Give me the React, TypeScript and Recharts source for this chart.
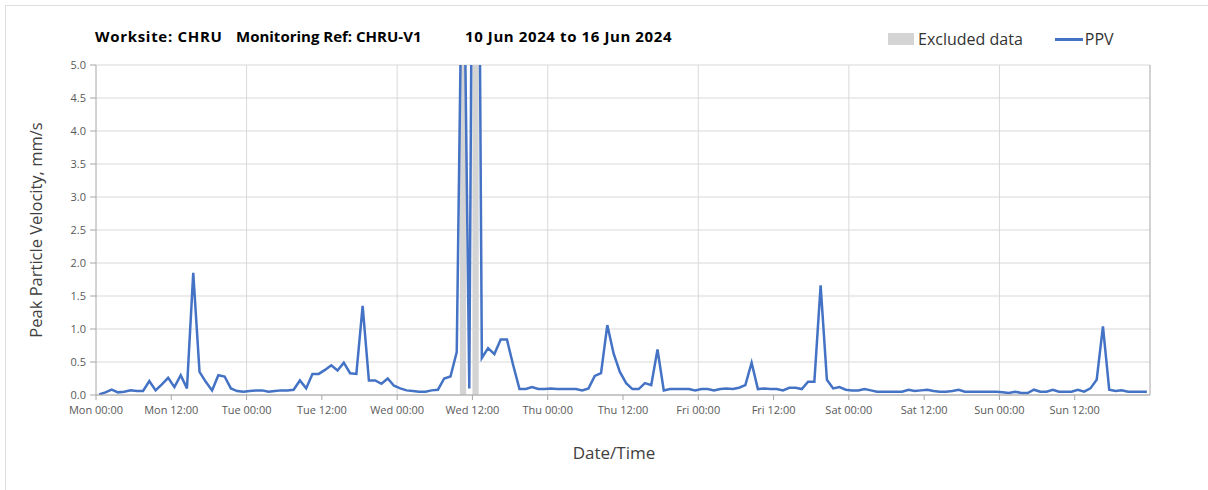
import {
  CartesianGrid,
  Line,
  LineChart,
  ReferenceArea,
  ReferenceLine,
  XAxis,
  YAxis,
} from 'recharts';

const LINE = '#4472C4';
const GRID = '#d9d9d9';
const AXIS = '#a6a6a6';
const EXCLUDED = '#d4d4d4';
const FONT = '"Open Sans", "Noto Sans", sans-serif';

// hourly PPV readings (mm/s), one array per day, Mon 10 Jun to Sun 16 Jun 2024
const monPPV = [0.01, 0.04, 0.08, 0.04, 0.05, 0.07, 0.06, 0.06, 0.21, 0.07, 0.16, 0.26, 0.12, 0.3, 0.1, 1.85, 0.35, 0.2, 0.07, 0.3, 0.28, 0.1, 0.06, 0.05];
const tuePPV = [0.06, 0.07, 0.07, 0.05, 0.06, 0.07, 0.07, 0.08, 0.22, 0.1, 0.32, 0.32, 0.38, 0.45, 0.37, 0.49, 0.33, 0.32, 1.35, 0.22, 0.22, 0.17, 0.25, 0.14];
const wedPPV = [0.1, 0.07, 0.06, 0.05, 0.05, 0.07, 0.08, 0.25, 0.28, 0.65, 8.0, 0.1, 16.0, 0.56, 0.71, 0.62, 0.84, 0.84, 0.45, 0.09, 0.09, 0.12, 0.09, 0.09];
const thuPPV = [0.1, 0.09, 0.09, 0.09, 0.09, 0.07, 0.1, 0.29, 0.33, 1.06, 0.63, 0.35, 0.18, 0.09, 0.09, 0.18, 0.15, 0.69, 0.07, 0.09, 0.09, 0.09, 0.09, 0.07];
const friPPV = [0.09, 0.09, 0.07, 0.09, 0.1, 0.09, 0.11, 0.15, 0.49, 0.09, 0.1, 0.09, 0.09, 0.07, 0.11, 0.11, 0.09, 0.2, 0.2, 1.66, 0.23, 0.1, 0.12, 0.08];
const satPPV = [0.07, 0.07, 0.09, 0.07, 0.05, 0.05, 0.05, 0.05, 0.05, 0.08, 0.06, 0.07, 0.08, 0.06, 0.05, 0.05, 0.06, 0.08, 0.05, 0.05, 0.05, 0.05, 0.05, 0.05];
const sunPPV = [0.04, 0.03, 0.05, 0.03, 0.03, 0.08, 0.05, 0.05, 0.08, 0.05, 0.05, 0.05, 0.08, 0.05, 0.1, 0.23, 1.04, 0.08, 0.06, 0.07, 0.05, 0.05, 0.05, 0.05];

// excluded data windows, hours from Mon 00:00
const excludedFrom = [58, 60];
const excludedTo = [59, 61];

const xTicks = [0, 12, 24, 36, 48, 60, 72, 84, 96, 108, 120, 132, 144, 156];
const xTickLabels = [
  'Mon 00:00', 'Mon 12:00', 'Tue 00:00', 'Tue 12:00', 'Wed 00:00', 'Wed 12:00', 'Thu 00:00',
  'Thu 12:00', 'Fri 00:00', 'Fri 12:00', 'Sat 00:00', 'Sat 12:00', 'Sun 00:00', 'Sun 12:00',
];
const dayLines = [24, 48, 72, 96, 120, 144];
const yTicks = [0, 0.5, 1, 1.5, 2, 2.5, 3, 3.5, 4, 4.5, 5];

const W = 1208;
const H = 490;

export default function App() {
  const readings = [...monPPV, ...tuePPV, ...wedPPV, ...thuPPV, ...friPPV, ...satPPV, ...sunPPV];
  // each reading sits at the middle of its hour
  const data = readings.map((ppv, i) => ({ t: i + 0.5, ppv }));

  return (
    <div
      style={{
        position: 'absolute',
        left: 0,
        top: 0,
        width: W,
        height: H,
        overflow: 'hidden',
        background: '#fff',
        fontFamily: FONT,
      }}
    >
      <div
        style={{
          position: 'absolute',
          left: 5,
          top: 5,
          width: W,
          height: H,
          borderTop: '1px solid #dedede',
          borderLeft: '1px solid #dedede',
        }}
      />
      <div
        style={{
          position: 'absolute',
          left: 95,
          top: 26,
          fontSize: 15,
          fontWeight: 700,
          color: '#000',
          whiteSpace: 'pre',
        }}
      >
        <span style={{ position: 'absolute', left: 0, letterSpacing: 0.7 }}>Worksite: CHRU</span>
        <span style={{ position: 'absolute', left: 141 }}>Monitoring Ref: CHRU-V1</span>
        <span style={{ position: 'absolute', left: 370, letterSpacing: 0.6 }}>10 Jun 2024 to 16 Jun 2024</span>
      </div>
      <div
        style={{
          position: 'absolute',
          left: 888,
          top: 28,
          fontSize: 16,
          color: '#333',
          display: 'flex',
          alignItems: 'center',
          whiteSpace: 'nowrap',
        }}
      >
        <span style={{ width: 26, height: 12, background: EXCLUDED, marginRight: 4 }} />
        <span>Excluded data</span>
        <span style={{ width: 28, height: 3, background: LINE, marginLeft: 32, marginRight: 2 }} />
        <span>PPV</span>
      </div>
      <LineChart
        width={W}
        height={H}
        data={data}
        margin={{ top: 65, right: 58, bottom: 65, left: 36 }}
      >
        <CartesianGrid stroke={GRID} strokeWidth={1} verticalValues={dayLines} />
        {excludedFrom.map((from, i) => (
          <ReferenceArea
            key={from}
            x1={from}
            x2={excludedTo[i]}
            y1={0}
            y2={5}
            fill={EXCLUDED}
            fillOpacity={1}
            stroke="none"
            ifOverflow="hidden"
          />
        ))}
        <ReferenceLine x={168} stroke={AXIS} />
        <XAxis
          dataKey="t"
          type="number"
          domain={[0, 168]}
          ticks={xTicks}
          tickFormatter={(v) => xTickLabels[xTicks.indexOf(v)] ?? ''}
          interval={0}
          stroke={AXIS}
          tickSize={5}
          tickMargin={6}
          tick={{ fontSize: 11, fill: '#595959', fontFamily: FONT }}
          height={30}
          label={{
            content: ({ viewBox }: any) => (
              <text
                x={614}
                y={viewBox.y + 64}
                textAnchor="middle"
                fontSize={17}
                fill="#404040"
                fontFamily={FONT}
              >
                Date/Time
              </text>
            ),
          }}
        />
        <YAxis
          type="number"
          domain={[0, 5]}
          ticks={yTicks}
          allowDataOverflow
          tickFormatter={(v) => Number(v).toFixed(1)}
          stroke={AXIS}
          tickSize={6}
          tickMargin={4}
          tick={{ fontSize: 11, fill: '#595959', fontFamily: FONT }}
          width={60}
          label={{
            content: ({ viewBox }: any) => {
              const cx = 35;
              const cy = viewBox.y + viewBox.height / 2;
              return (
                <text
                  x={cx}
                  y={cy}
                  transform={`rotate(-90 ${cx} ${cy})`}
                  textAnchor="middle"
                  dominantBaseline="central"
                  fontSize={16.5}
                  fill="#404040"
                  fontFamily={FONT}
                >
                  Peak Particle Velocity, mm/s
                </text>
              );
            },
          }}
        />
        <Line
          type="linear"
          dataKey="ppv"
          stroke={LINE}
          strokeWidth={2.5}
          dot={false}
          activeDot={false}
          isAnimationActive={false}
        />
      </LineChart>
    </div>
  );
}
